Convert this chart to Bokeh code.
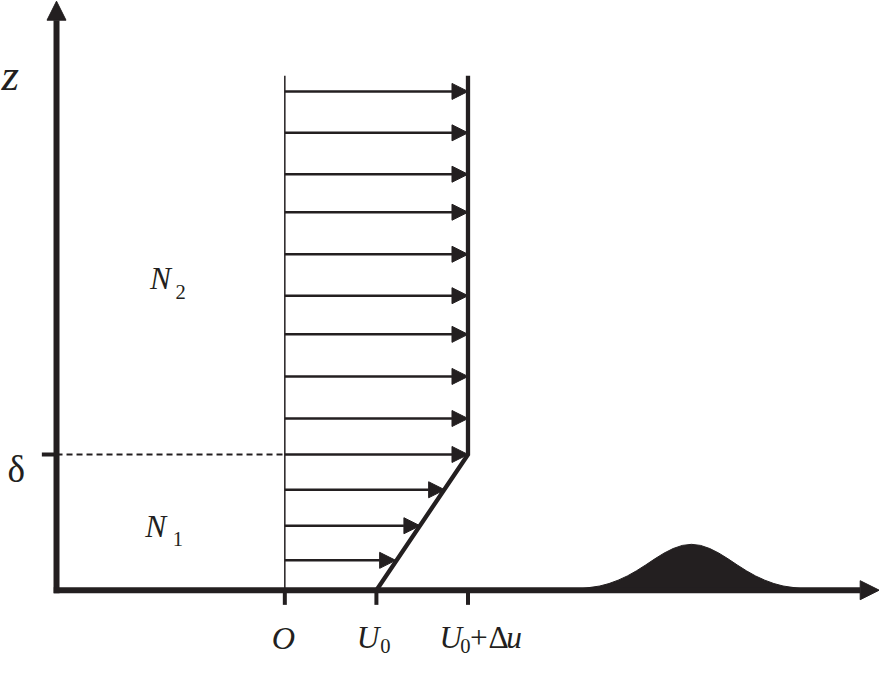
from bokeh.plotting import figure
from bokeh.models import Range1d, Arrow, NormalHead, ColumnDataSource
from bokeh.core.properties import value
from bokeh.embed import file_html
from bokeh.resources import INLINE

ink = "#231f20"
serif = "Liberation Serif"

# velocity profile: u in units of U0, z in units of delta
U0 = 1.0
dU = 1.0
delta = 1.0
z_top = 3.79

arrow_z = [0.22, 0.475, 0.74, 1.0, 1.265, 1.575, 1.885, 2.17, 2.475, 2.785, 3.065, 3.37, 3.675]
arrow_u = [1.21, 1.475, 1.745, 2.0, 2.0, 2.0, 2.0, 2.0, 2.0, 2.0, 2.0, 2.0, 2.0]

profile_u = [U0, U0 + dU, U0 + dU]
profile_z = [0.0, delta, z_top]

tick_u = [0.0, U0, U0 + dU]

# obstacle (hill) on the ground
hill_u = [3.04, 3.24, 3.44, 3.54, 3.64, 3.74, 3.84, 3.94, 4.04, 4.14, 4.24, 4.34, 4.44,
          4.54, 4.64, 4.74, 4.84, 4.94, 5.04, 5.14, 5.24, 5.34, 5.44, 5.64, 5.84]
hill_z = [0.0, 0.011, 0.031, 0.049, 0.074, 0.105, 0.143, 0.186, 0.231, 0.273, 0.307, 0.330, 0.338,
          0.330, 0.307, 0.273, 0.231, 0.186, 0.143, 0.105, 0.074, 0.049, 0.031, 0.011, 0.0]

ax_u = -2.493  # where the z axis stands
k = 0.98       # screen scale of the page vs the original drawing

p = figure(
    width=879,
    height=660,
    x_range=Range1d(-3.1046, 6.4933),
    y_range=Range1d(-0.518, 4.345),
    x_axis_location=None,
    y_axis_location=None,
    output_backend="svg",
    toolbar_location=None,
    tools="",
    min_border=0,
)
p.grid.visible = False
p.outline_line_color = None
p.background_fill_color = "white"
p.border_fill_color = "white"

# hill
p.patch(hill_u, hill_z, fill_color=ink, line_color=ink, line_width=1)

# thin u = 0 line and the profile
p.line([0, 0], [0, z_top], line_width=1.5, color=ink)
p.line(profile_u, profile_z, line_width=4.3, color=ink, line_join="miter")

# dashed line at delta and its tick
p.line([ax_u, 0], [delta, delta], line_width=2, color=ink, line_dash="6 4")
p.segment(x0=[ax_u - 0.16], y0=[delta], x1=[ax_u], y1=[delta], line_width=4, color=ink)

# ticks on the u axis
p.segment(x0=tick_u, y0=[0] * 3, x1=tick_u, y1=[-0.108] * 3, line_width=4, color=ink)

# velocity arrows
src = ColumnDataSource(dict(x0=[0.0] * len(arrow_z), z=arrow_z, u=arrow_u))
p.add_layout(
    Arrow(
        x_start="x0", y_start="z", x_end="u", y_end="z", source=src,
        line_width=2.5, line_color=ink,
        end=NormalHead(size=16, fill_color=ink, line_color=ink, line_width=1),
    )
)

# main axes
p.add_layout(
    Arrow(
        x_start=ax_u, y_start=-0.022, x_end=ax_u, y_end=4.34,
        line_width=6, line_color=ink,
        end=NormalHead(size=19, fill_color=ink, line_color=ink, line_width=1),
    )
)
p.add_layout(
    Arrow(
        x_start=ax_u - 0.03, y_start=0, x_end=6.49, y_end=0,
        line_width=6, line_color=ink,
        end=NormalHead(size=19, fill_color=ink, line_color=ink, line_width=1),
    )
)


def label(x, y, s, size, italic=False, dx=0, dy=0, align="left"):
    p.text(
        x=[x], y=[y], text=[s],
        text_font=value(serif),
        text_font_size=f"{size * k:.1f}px",
        text_font_style="italic" if italic else "normal",
        text_color=ink,
        text_align=align,
        text_baseline="alphabetic",
        x_offset=dx * k,
        y_offset=dy * k,
    )


label(-3.094, 3.799, "z", 46, True)
label(-3.029, 0.892, "δ", 38)
label(-1.471, 2.295, "N", 32, True)
label(-1.471, 2.295, "2", 21, dx=26, dy=14)
label(-1.524, 0.468, "N", 32, True)
label(-1.524, 0.468, "1", 21, dx=28, dy=13)

label(tick_u[0], 0, "O", 33, True, dx=-1.5, dy=49, align="center")
label(tick_u[1], 0, "U", 32, True, dx=-20, dy=48)
label(tick_u[1], 0, "0", 21, dx=4, dy=57)
label(tick_u[2], 0, "U", 32, True, dx=-29, dy=48)
label(tick_u[2], 0, "0", 21, dx=-8, dy=57)
label(tick_u[2], 0, "+", 32, dx=2, dy=48)
label(tick_u[2], 0, "Δ", 32, dx=21, dy=48)
label(tick_u[2], 0, "u", 32, True, dx=39, dy=48)

open("out.html", "w").write(file_html(p, INLINE))
